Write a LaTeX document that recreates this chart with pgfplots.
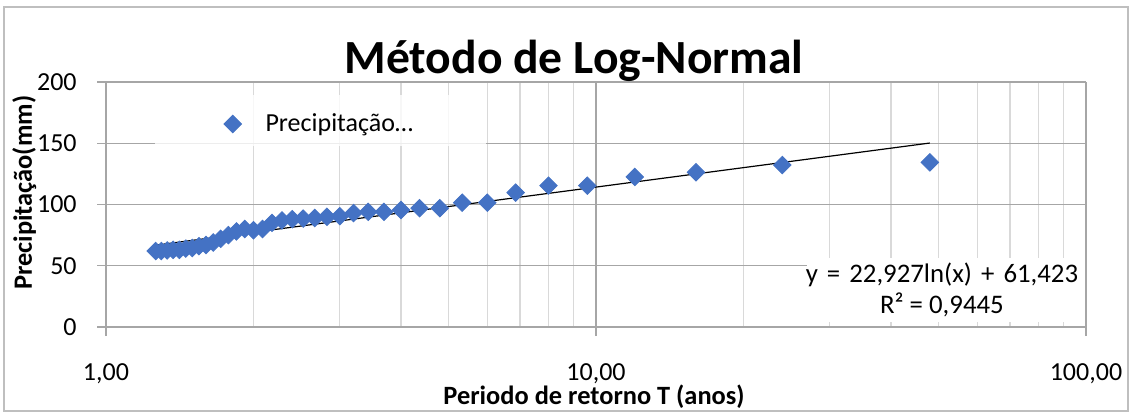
\documentclass[border=0pt]{standalone}
\usepackage{fontspec}
\setmainfont{Carlito}
\usepackage{pgfplots}
\pgfplotsset{compat=1.18}
\definecolor{xblue}{HTML}{4472C4}
\definecolor{gridc}{HTML}{A6A6A6}
\definecolor{minorc}{HTML}{D9D9D9}
\definecolor{framec}{HTML}{BFBFBF}
\begin{document}
\begin{tikzpicture}
\begin{axis}[
  scale only axis, width=490pt, height=122.5pt,
  xmode=log, log basis x=10,
  xmin=1, xmax=100, ymin=0, ymax=200,
  xtick={1,10,100}, xticklabels={{1,00},{10,00},{100,00}},
  minor xtick={2,3,4,5,6,7,8,9,20,30,40,50,60,70,80,90},
  ytick={0,50,100,150,200},
  xmajorgrids, xminorgrids, ymajorgrids,
  major grid style={gridc, line width=0.6pt},
  minor grid style={minorc, line width=0.6pt},
  axis x line*=bottom, axis y line*=left,
  axis line style={gridc, line width=0.6pt},
  tick align=outside, major tick length=4.5pt, minor tick length=0pt,
  tick style={gridc, line width=0.6pt},
  /pgf/number format/assume math mode=true,
  ticklabel style={font=\fontsize{13}{15.5}\selectfont, inner sep=0pt},
  xticklabel style={anchor=base, yshift=-22pt},
  yticklabel style={anchor=east, xshift=-10pt},
  clip=false,
  legend style={at={(rel axis cs:0.12,0.8286)}, anchor=west, draw=none, fill=none,
    font=\fontsize{13}{15.5}\selectfont, inner sep=0pt},
  legend cell align=left,
]
\fill[white, opacity=0.8] (rel axis cs:0.05,0.74) rectangle (rel axis cs:0.388,0.945);
\fill[white] (rel axis cs:0.715,0.02) rectangle (rel axis cs:0.999,0.282);
\addplot[only marks, mark=square*, mark size=3.1pt, mark options={rotate=45, fill=xblue, draw=xblue}]
coordinates {
(48,134.4) (24,132.2) (16,126.3) (12,122.5) (9.6,115.4) (8,115.4) (6.857,109.7)
(6,101.5) (5.333,101.5) (4.8,97) (4.364,97) (4,95.5) (3.692,94) (3.429,94)
(3.2,93) (3,90.5) (2.824,90) (2.667,89) (2.526,88.5) (2.4,88) (2.286,87)
(2.182,85) (2.087,80) (2,79) (1.92,80) (1.846,78) (1.778,75) (1.714,72)
(1.655,69) (1.6,67) (1.548,66) (1.5,64.5) (1.455,64) (1.412,63) (1.371,63)
(1.333,62.5) (1.297,62) (1.263,62)
};
\addlegendentry{\hspace{10pt}Precipitação…}
\addplot[black, line width=0.6pt, forget plot] coordinates {(1.2632,66.78) (48,150.18)};
\node[align=center, font=\fontsize{13.4}{15.5}\selectfont] at (rel axis cs:0.853,0.151)
  {y\hspace{1.5pt} =\hspace{1.5pt} 22,927ln(x)\hspace{1.5pt} +\hspace{1.5pt} 61,423\\R² = 0,9445};
\node[anchor=base, font=\bfseries\fontsize{23.8}{28}\selectfont, yshift=4.5pt] at (rel axis cs:0.4776,1) {Método de Log-Normal};
\node[anchor=base, font=\bfseries\fontsize{13.2}{16}\selectfont, yshift=-38.5pt] at (rel axis cs:0.498,0) {Periodo de retorno T (anos)};
\node[xshift=-37pt, rotate=90, anchor=base, font=\bfseries\fontsize{13.2}{16}\selectfont] at (rel axis cs:0,0.548) {Precipitação(mm)};
\end{axis}
\draw[framec, line width=0.6pt] (-51pt,-42pt) rectangle (511pt,160pt);
\pgfresetboundingbox
\path[use as bounding box] (-53pt,-43.5pt) rectangle (513pt,163.5pt);
\end{tikzpicture}
\end{document}
